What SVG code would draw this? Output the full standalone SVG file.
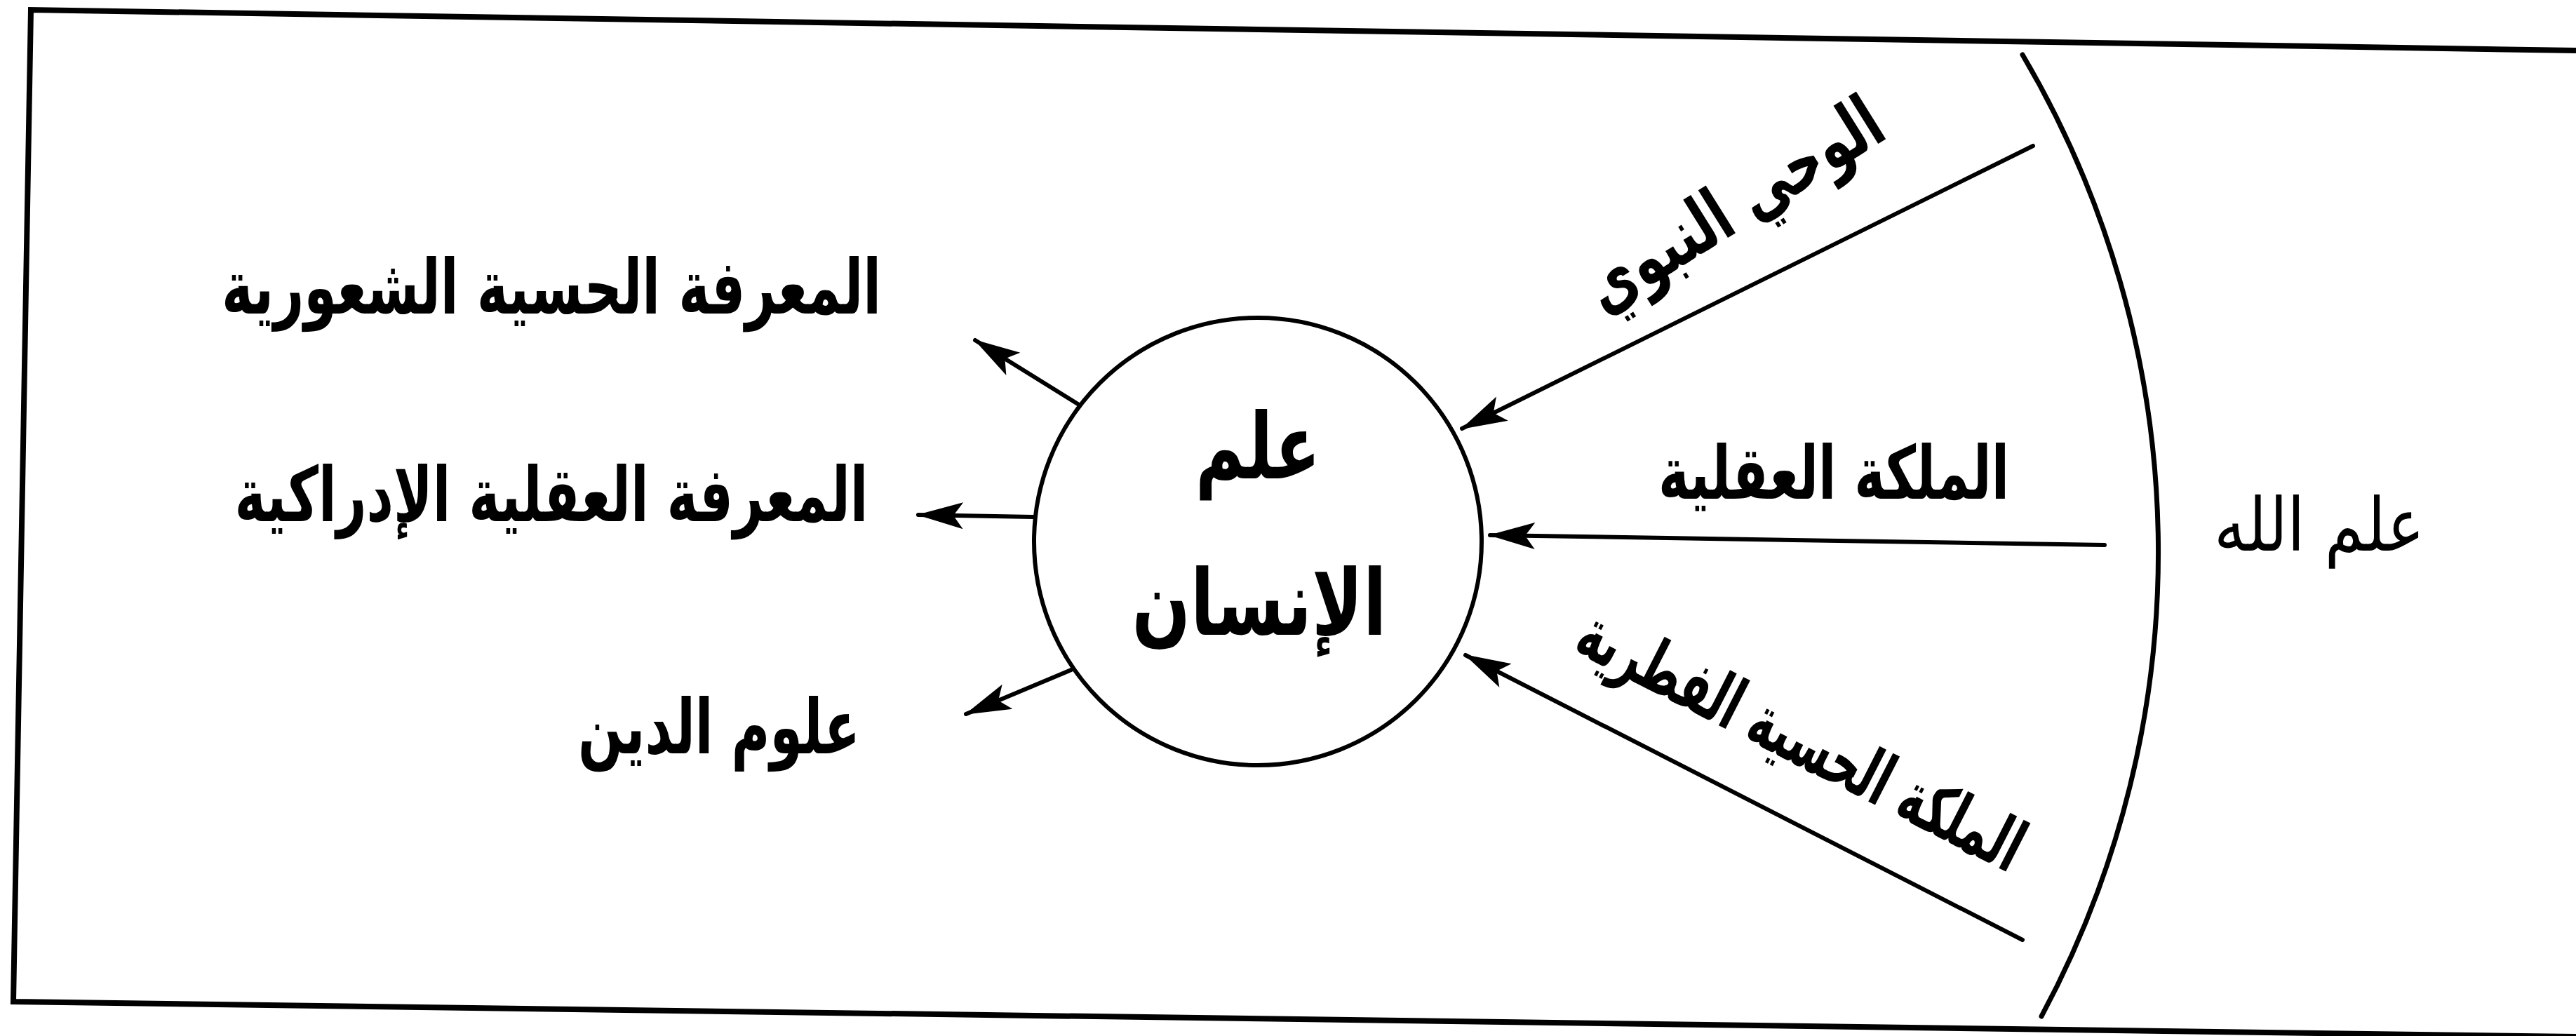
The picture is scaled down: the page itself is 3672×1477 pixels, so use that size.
<svg xmlns="http://www.w3.org/2000/svg" width="3672" height="1477" viewBox="0 0 3672 1477">
<style>
  .ln { fill: none; stroke: #000; stroke-width: 6; stroke-linecap: round; }
  .frame { fill: none; stroke: #000; stroke-width: 8; stroke-linejoin: miter; }
  .lbl { font-family: "DejaVu Sans", sans-serif; font-weight: bold; fill: #000; text-anchor: middle; }
  .reg { font-family: "DejaVu Sans", sans-serif; font-weight: normal; fill: #000; text-anchor: middle; }
</style>
<defs>
  <marker id="ah" viewBox="0 0 66 44" refX="64" refY="22" markerWidth="66" markerHeight="44" markerUnits="userSpaceOnUse" orient="auto">
    <path d="M0,3 L66,22 L0,41 L14,22 z" fill="#000"/>
  </marker>
</defs>
<rect x="0" y="0" width="3672" height="1477" fill="#fff"/>
<g id="frame">
  <polyline class="frame" points="3672,72 44,14 19,1428 3672,1478"/>
</g>
<g id="boundary-arc">
  <path class="ln" style="stroke-width:7" d="M 2883 78 A 1397 1397 0 0 1 2910 1449"/>
</g>
<g id="node-human">
  <circle cx="1793" cy="772" r="319" fill="none" stroke="#000" stroke-width="6"/>
  <text class="lbl" x="1793" y="682" font-size="130" textLength="178" lengthAdjust="spacingAndGlyphs">علم</text>
  <text class="lbl" x="1795" y="905" font-size="130" textLength="363" lengthAdjust="spacingAndGlyphs">الإنسان</text>
</g>
<g id="node-god">
  <text class="reg" x="3306" y="785" font-size="105" textLength="300" lengthAdjust="spacingAndGlyphs">علم الله</text>
</g>
<g id="node-sensory">
  <text class="lbl" x="786" y="447" font-size="108" textLength="940" lengthAdjust="spacingAndGlyphs">المعرفة الحسية الشعورية</text>
</g>
<g id="node-rational">
  <text class="lbl" x="786" y="743" font-size="108" textLength="903" lengthAdjust="spacingAndGlyphs">المعرفة العقلية الإدراكية</text>
</g>
<g id="node-religion">
  <text class="lbl" x="1025" y="1074" font-size="108" textLength="402" lengthAdjust="spacingAndGlyphs">علوم الدين</text>
</g>
<g id="node-revelation">
  <text class="lbl" transform="translate(2490,322) rotate(-32)" x="0" y="0" font-size="105" textLength="480" lengthAdjust="spacingAndGlyphs">الوحي النبوي</text>
</g>
<g id="node-intellect">
  <text class="lbl" x="2614" y="711" font-size="105" textLength="500" lengthAdjust="spacingAndGlyphs">الملكة العقلية</text>
</g>
<g id="node-instinct">
  <text class="lbl" transform="translate(2552,1086) rotate(27)" x="0" y="0" font-size="102" textLength="700" lengthAdjust="spacingAndGlyphs">الملكة الحسية الفطرية</text>
</g>
<g id="connectors">
  <line class="ln" x1="1538" y1="577" x2="1390" y2="485" marker-end="url(#ah)"/>
  <line class="ln" x1="1473" y1="737" x2="1309" y2="734" marker-end="url(#ah)"/>
  <line class="ln" x1="1527" y1="955" x2="1377" y2="1018" marker-end="url(#ah)"/>
  <line class="ln" x1="2898" y1="208" x2="2084" y2="611" marker-end="url(#ah)"/>
  <line class="ln" x1="3000" y1="777" x2="2124" y2="763" marker-end="url(#ah)"/>
  <line class="ln" x1="2883" y1="1340" x2="2089" y2="934" marker-end="url(#ah)"/>
</g>
</svg>
